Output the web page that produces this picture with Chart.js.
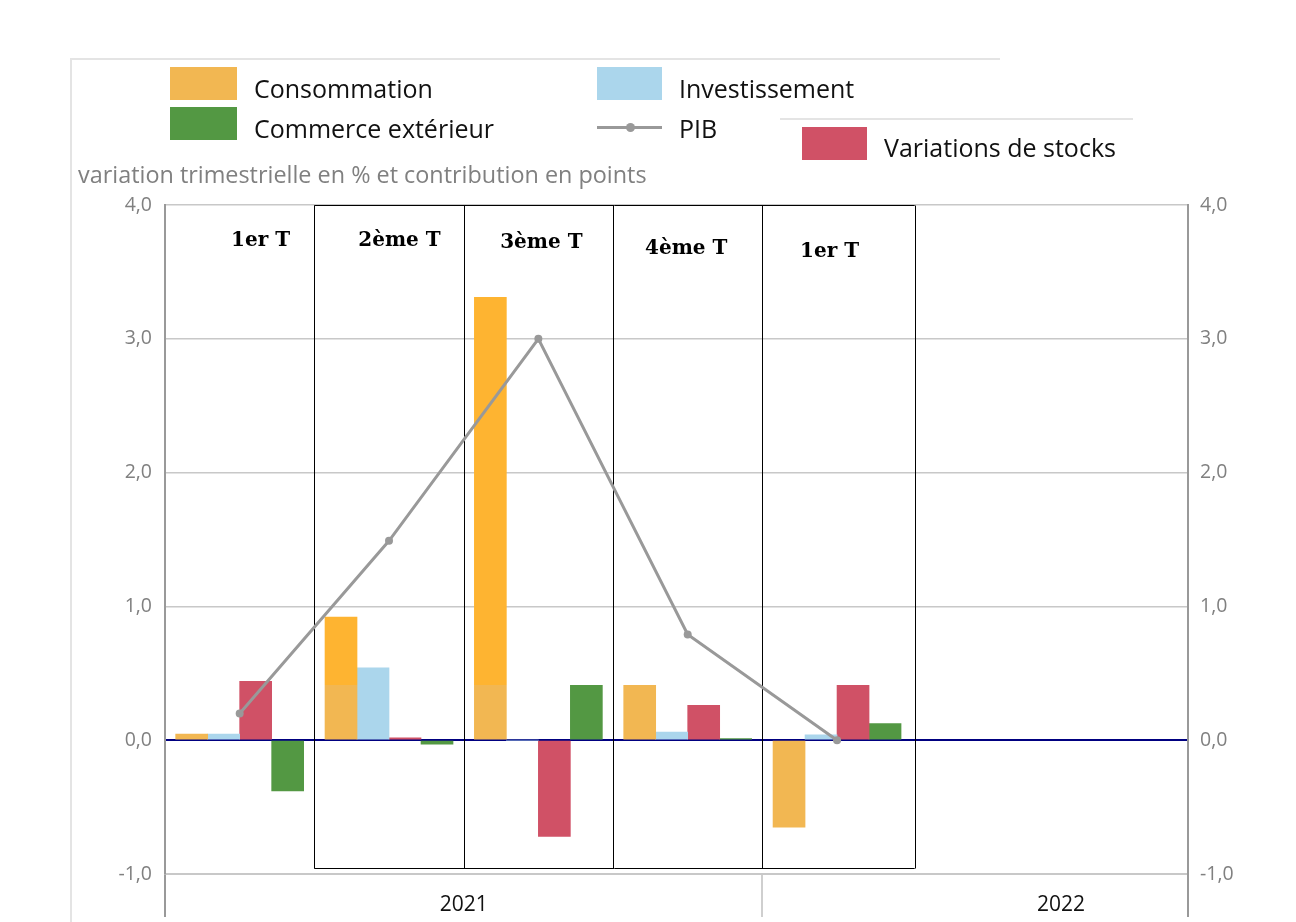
<!DOCTYPE html>
<html>
<head>
<meta charset="utf-8">
<script src="https://cdn.jsdelivr.net/npm/chart.js@4.4.1/dist/chart.umd.min.js"></script>
<style>
  html, body { margin: 0; padding: 0; background: #fff; }
  #wrap { position: relative; width: 1296px; height: 922px; font-family: "Open Sans", sans-serif; }
  #chart { position: absolute; left: 0; top: 0; }
  .lg { position: absolute; font-size: 25px; color: #111; line-height: 34px; white-space: nowrap; }
  .sw { position: absolute; }
  .rule { position: absolute; background: #e4e4e4; }
</style>
</head>
<body>
<div id="wrap">
  <canvas id="chart" width="1296" height="922"></canvas>
  <div class="rule" style="left:70px; top:58px; width:930px; height:2px;"></div>
  <div class="rule" style="left:70px; top:58px; width:2px; height:864px;"></div>
  <div class="rule" style="left:780px; top:118px; width:353px; height:2px;"></div>

  <div class="sw" style="left:170px; top:67px; width:67px; height:33px; background:#F2B752;"></div>
  <div class="lg" style="left:254px; top:71px;">Consommation</div>
  <div class="sw" style="left:170px; top:107px; width:67px; height:33px; background:#539843;"></div>
  <div class="lg" style="left:254px; top:111px;">Commerce extérieur</div>

  <div class="sw" style="left:597px; top:67px; width:65px; height:33px; background:#ABD6EC;"></div>
  <div class="lg" style="left:679px; top:71px;">Investissement</div>
  <div class="sw" style="left:597px; top:126px; width:65px; height:3px; background:#999;"></div>
  <div class="sw" style="left:626px; top:123px; width:9px; height:9px; border-radius:50%; background:#999;"></div>
  <div class="lg" style="left:679px; top:111px;">PIB</div>

  <div class="sw" style="left:802px; top:127px; width:65px; height:33px; background:#D05166;"></div>
  <div class="lg" style="left:884px; top:130px;">Variations de stocks</div>

  <div class="lg" style="left:78px; top:158px; font-size:23.4px; line-height:32px; color:#808080;">variation trimestrielle en % et contribution en points</div>
</div>
<script>
// trimestres affichés (2021 T1 .. 2022 T1)
var quarters = ['1er T', '2ème T', '3ème T', '4ème T', '1er T'];
var quarterX = [0, 1, 2, 3, 4];

// contributions en points
var consommation = [0.045, 0.92, 3.31, 0.41, -0.65];
var investissement = [0.045, 0.54, 0.0, 0.06, 0.04];
var stocks = [0.44, 0.017, -0.72, 0.26, 0.41];
var commerce = [-0.38, -0.03, 0.41, 0.013, 0.125];
// PIB, variation trimestrielle en %
var pib = [0.2, 1.49, 3.0, 0.79, 0.0];

// axe des années
var yearTicks = [-0.5, 1.5, 3.5, 5.5, 6.35];
var yearLabels = ['', '2021', '', '2022', ''];
var yTicks = [-1, 0, 1, 2, 3, 4];

// habillage
var consSplit = 0.41;
var boxEdges = [0.5, 1.5, 2.5, 3.5, 4.52];
var boxTop = 4.0, boxBottom = -0.955;
var quarterLabelX = [0.14, 1.07, 2.02, 2.99, 3.95];
var quarterLabelY = [3.73, 3.73, 3.72, 3.67, 3.65];

function pts(arr) {
    return arr.map(function (v, i) { return {x: quarterX[i], y: v}; });
}

function consColor(c) {
    var chart = c.chart;
    var area = chart.chartArea;
    if (!area) return '#F2B752';
    var yb = chart.scales.y.getPixelForValue(consSplit);
    var t = (yb - area.top) / (area.bottom - area.top);
    var g = chart.ctx.createLinearGradient(0, area.top, 0, area.bottom);
    g.addColorStop(0, '#FEB431');
    g.addColorStop(t, '#FEB431');
    g.addColorStop(t, '#F2B752');
    g.addColorStop(1, '#F2B752');
    return g;
}

var quarterBoxes = {
    id: 'quarterBoxes',
    beforeDatasetsDraw: function (chart) {
        var ctx = chart.ctx, x = chart.scales.x, y = chart.scales.y;
        var left = x.getPixelForValue(boxEdges[0]);
        var right = x.getPixelForValue(boxEdges[boxEdges.length - 1]);
        var top = Math.round(y.getPixelForValue(boxTop)) + 0.5;
        var bottom = Math.round(y.getPixelForValue(boxBottom)) + 0.5;
        ctx.save();
        ctx.strokeStyle = '#000';
        ctx.lineWidth = 1;
        ctx.beginPath();
        ctx.moveTo(left, top); ctx.lineTo(right, top);
        ctx.moveTo(left, bottom); ctx.lineTo(right, bottom);
        boxEdges.forEach(function (v) {
            var px = Math.round(x.getPixelForValue(v)) + 0.5;
            ctx.moveTo(px, top); ctx.lineTo(px, bottom);
        });
        ctx.stroke();
        ctx.font = 'bold 20px "DejaVu Serif"';
        ctx.fillStyle = '#000';
        ctx.textAlign = 'center';
        ctx.textBaseline = 'middle';
        quarters.forEach(function (q, i) {
            ctx.fillText(q, x.getPixelForValue(quarterLabelX[i]), y.getPixelForValue(quarterLabelY[i]));
        });
        ctx.restore();
    }
};

var tickFont = {family: '"Open Sans"', size: 19.5};
var fmt = function (v) { return v.toFixed(1).replace('.', ','); };

var ctx = document.getElementById('chart');
var chart = new Chart(ctx, {
    type: 'bar',
    data: {
        datasets: [{
            type: 'line',
            label: 'PIB',
            data: pts(pib),
            borderColor: '#999',
            backgroundColor: '#999',
            borderWidth: 3,
            pointRadius: 4,
            pointBackgroundColor: '#999',
            pointBorderWidth: 0,
            order: 0
        }, {
            label: 'Consommation',
            data: pts(consommation),
            backgroundColor: consColor,
            order: 1
        }, {
            label: 'Investissement',
            data: pts(investissement),
            backgroundColor: '#ABD6EC',
            order: 1
        }, {
            label: 'Variations de stocks',
            data: pts(stocks),
            backgroundColor: '#D05166',
            order: 1
        }, {
            label: 'Commerce extérieur',
            data: pts(commerce),
            backgroundColor: '#539843',
            order: 1
        }]
    },
    options: {
        responsive: false,
        animation: false,
        layout: {padding: {top: 205, left: 0, right: 0, bottom: 0}},
        datasets: {bar: {barThickness: 32}},
        plugins: {legend: {display: false}, tooltip: {enabled: false}},
        scales: {
            x: {
                type: 'linear',
                offset: false,
                min: yearTicks[0],
                max: yearTicks[yearTicks.length - 1],
                afterBuildTicks: function (axis) {
                    axis.ticks = yearTicks.map(function (v) { return {value: v}; });
                },
                afterFit: function (axis) { axis.height = 48; },
                ticks: {
                    autoSkip: false,
                    maxRotation: 0,
                    padding: -25,
                    color: '#111',
                    font: {family: '"Open Sans"', size: 21},
                    callback: function (v, i) { return yearLabels[i]; }
                },
                grid: {
                    offset: false,
                    drawOnChartArea: false,
                    tickLength: 43,
                    color: function (c) {
                        if (!c.tick) return 'transparent';
                        var i = yearTicks.indexOf(c.tick.value);
                        return yearLabels[i] ? 'rgba(0,0,0,0)' : (i === 2 ? '#cfcfcf' : '#999');
                    },
                    lineWidth: 2
                },
                border: {color: '#c8c8c8', width: 2}
            },
            y: {
                position: 'left',
                min: yTicks[0],
                max: yTicks[yTicks.length - 1],
                afterBuildTicks: function (axis) {
                    axis.ticks = yTicks.map(function (v) { return {value: v}; });
                },
                afterFit: function (axis) { axis.width = 165; },
                ticks: {padding: 13, color: '#808080', font: tickFont, callback: fmt},
                grid: {
                    drawTicks: false,
                    color: function (c) { return c.tick && c.tick.value === 0 ? '#000080' : '#c8c8c8'; },
                    lineWidth: function (c) { return c.tick && c.tick.value === 0 ? 2 : 1.5; }
                },
                border: {color: '#999', width: 2}
            },
            y2: {
                position: 'right',
                min: yTicks[0],
                max: yTicks[yTicks.length - 1],
                afterBuildTicks: function (axis) {
                    axis.ticks = yTicks.map(function (v) { return {value: v}; });
                },
                afterFit: function (axis) { axis.width = 108; },
                ticks: {padding: 12, color: '#808080', font: tickFont, callback: fmt},
                grid: {drawOnChartArea: false, drawTicks: false},
                border: {color: '#999', width: 2}
            }
        }
    },
    plugins: [quarterBoxes]
});
</script>
</body>
</html>
